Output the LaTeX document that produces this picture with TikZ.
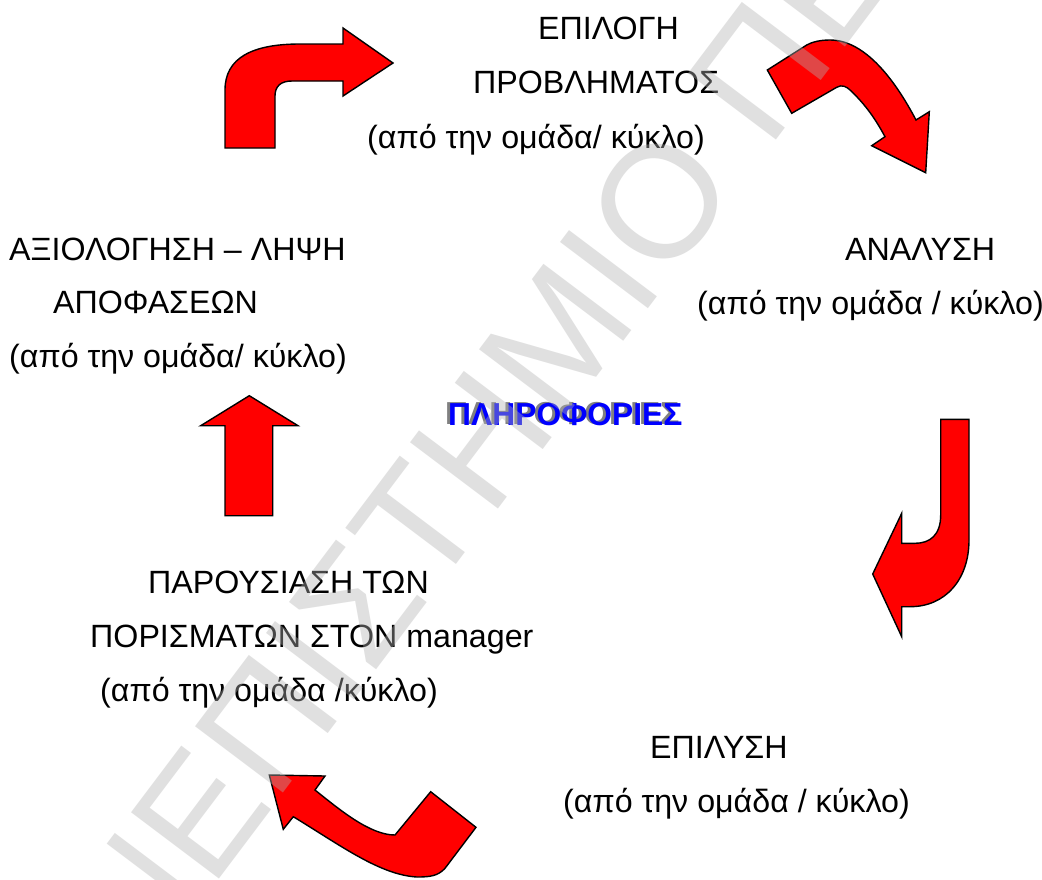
\documentclass[tikz,border=0pt]{standalone}
\usepackage{fontspec}
\setmainfont{Liberation Sans}
\begin{document}
\begin{tikzpicture}[x=1pt,y=-1pt,
  lbl/.style={anchor=base west, inner sep=0pt, font=\fontsize{32.2}{36}\selectfont},
  infotext/.style={anchor=base west, inner sep=0pt, font=\fontsize{31.8}{36}\selectfont\bfseries},
  redarrow/.style={fill=red, draw=black, line width=1.4pt, line join=miter},
  stamp/.style={anchor=base west, inner sep=0pt, rotate=53, text=black!30, opacity=0.4,
    font=\fontsize{160}{170}\selectfont}]
\useasboundingbox (0,0) rectangle (1042,879);
\fill[white] (0,0) rectangle (1042,879);

% stage labels
\node[lbl] (sel1) at (538,39) {ΕΠΙΛΟΓΗ};
\node[lbl] (sel2) at (473,93) {ΠΡΟΒΛΗΜΑΤΟΣ};
\node[lbl] (sel3) at (367,148) {(από την ομάδα/ κύκλο)};

\node[lbl] (eva1) at (9,260) {ΑΞΙΟΛΟΓΗΣΗ – ΛΗΨΗ};
\node[lbl] (eva2) at (53,313) {ΑΠΟΦΑΣΕΩΝ};
\node[lbl] (eva3) at (9,367) {(από την ομάδα/ κύκλο)};

\node[lbl] (ana1) at (845,260) {ΑΝΑΛΥΣΗ};
\node[lbl] (ana2) at (697,314) {(από την ομάδα / κύκλο)};

\node[lbl] (pre1) at (148,593) {ΠΑΡΟΥΣΙΑΣΗ ΤΩΝ};
\node[lbl] (pre2) at (90,647) {ΠΟΡΙΣΜΑΤΩΝ ΣΤΟΝ manager};
\node[lbl] (pre3) at (100,701) {(από την ομάδα /κύκλο)};

\node[lbl] (sol1) at (650,758) {ΕΠΙΛΥΣΗ};
\node[lbl] (sol2) at (563,812) {(από την ομάδα / κύκλο)};

% centre word with its grey shadow
\node[infotext, text=black!50] (infoshadow) at (445,424) {ΠΛΗΡΟΦΟΡΙΕΣ};
\node[infotext, text=blue] (info) at (448,425) {ΠΛΗΡΟΦΟΡΙΕΣ};

% arrow: evaluation -> selection
\draw[redarrow] (225,148) -- (225,90)
  .. controls (225,58) and (252,44) .. (300,44) -- (343,44)
  -- (343,28) -- (393,63) -- (343,96) -- (343,81) -- (292,81)
  .. controls (281,81) and (275,86) .. (275,96) -- (275,148) -- cycle;

% arrow: selection -> analysis
\draw[redarrow] (767.3,70) -- (791.7,113.3) -- (836.7,87.3)
  .. controls (842,84) and (847,87) .. (850,90)
  .. controls (866,105) and (876,120) .. (885,136.7)
  -- (871.7,145.7) -- (925.7,172.7) -- (929.3,111.7) -- (916,120)
  .. controls (895,80) and (865,40) .. (830,40)
  .. controls (820,40) and (812,42) .. (806.7,45) -- cycle;

% arrow: analysis -> solution
\draw[redarrow] (940.7,419.3) -- (969,419.3) -- (969,540)
  .. controls (969,580) and (945,606.7) .. (910,606.7) -- (901.7,606.7)
  -- (901.7,636.7) -- (872.7,574) -- (901.7,513.3) -- (901.7,543.3) -- (915,543.3)
  .. controls (930,543.3) and (940.7,535) .. (940.7,515) -- cycle;

% arrow: solution -> presentation
\draw[redarrow] (269.3,775) -- (325,776) -- (315,790)
  .. controls (340,810) and (370,835) .. (395,835)
  -- (430.7,791.7) -- (476,827.3) -- (445,868.3)
  .. controls (438,876) and (430,877) .. (417,877)
  .. controls (380,875) and (340,845) .. (293.3,816.7)
  -- (283.3,829.3) -- cycle;

% arrow: presentation -> evaluation
\draw[redarrow] (249.3,395.7) -- (298,425.7) -- (272.7,425.7) -- (272.7,515.7)
  -- (225,515.7) -- (225,425.7) -- (200.7,425.7) -- cycle;

% diagonal stamp over the page
\begin{scope}
\clip (0,0) rectangle (1042,879);
\node[stamp] (stamp) at (8,1159) {ΠΑΝΕΠΙΣΤΗΜΙΟ ΠΕΙΡΑΙΩΣ};
\end{scope}
\end{tikzpicture}
\end{document}
